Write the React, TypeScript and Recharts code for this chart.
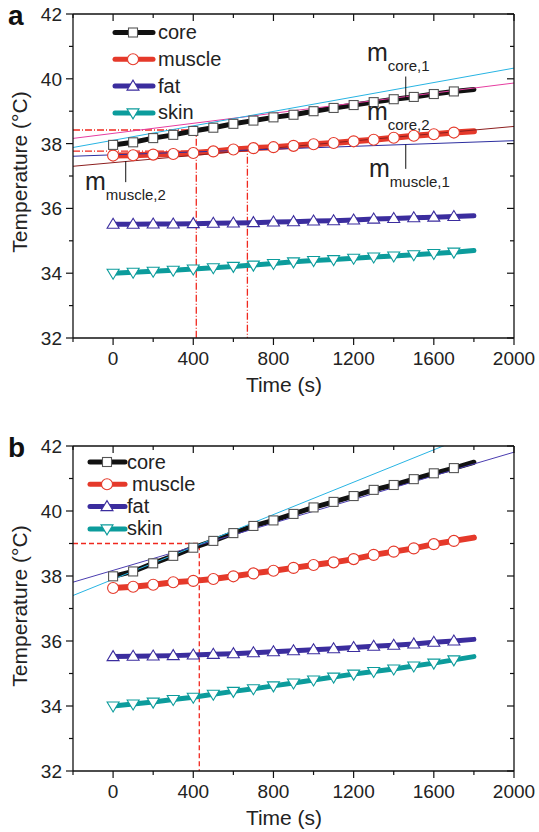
import React from "react";
import { LineChart, Line, XAxis, YAxis, ReferenceLine } from "recharts";

// time axis of the simulation (s); markers every 100 s up to 1700
const times = [0, 100, 200, 300, 400, 500, 600, 700, 800, 900, 1000, 1100, 1200, 1300, 1400, 1500, 1600, 1700, 1800];

// panel a
const coreA = [37.96, 38.04, 38.17, 38.27, 38.39, 38.49, 38.61, 38.71, 38.81, 38.89, 39.0, 39.1, 39.19, 39.28, 39.37, 39.44, 39.53, 39.61, 39.67];
const muscleA = [37.63, 37.64, 37.66, 37.68, 37.71, 37.76, 37.82, 37.86, 37.89, 37.93, 37.98, 38.02, 38.07, 38.12, 38.18, 38.24, 38.29, 38.34, 38.38];
const fatA = [35.51, 35.51, 35.52, 35.52, 35.53, 35.54, 35.55, 35.56, 35.58, 35.59, 35.61, 35.62, 35.64, 35.67, 35.69, 35.71, 35.73, 35.75, 35.77];
const skinA = [34.0, 34.03, 34.06, 34.09, 34.13, 34.17, 34.21, 34.25, 34.3, 34.35, 34.39, 34.42, 34.46, 34.5, 34.53, 34.57, 34.61, 34.65, 34.7];

// panel b
const coreB = [37.99, 38.14, 38.39, 38.62, 38.87, 39.08, 39.32, 39.54, 39.71, 39.91, 40.11, 40.28, 40.46, 40.65, 40.8, 40.98, 41.16, 41.32, 41.5];
const muscleB = [37.63, 37.67, 37.73, 37.81, 37.85, 37.91, 37.99, 38.08, 38.16, 38.25, 38.34, 38.42, 38.52, 38.65, 38.75, 38.85, 38.98, 39.08, 39.18];
const fatB = [35.52, 35.53, 35.54, 35.55, 35.57, 35.59, 35.61, 35.64, 35.67, 35.7, 35.73, 35.76, 35.8, 35.84, 35.87, 35.91, 35.96, 36.0, 36.05];
const skinB = [34.0, 34.06, 34.12, 34.2, 34.27, 34.36, 34.45, 34.53, 34.62, 34.71, 34.8, 34.89, 34.98, 35.06, 35.14, 35.23, 35.32, 35.42, 35.52];

// linear fits (end points)
const fitCore1A = [{ t: -200, v: 37.88 }, { t: 2000, v: 40.33 }];
const fitCore2A = [{ t: -200, v: 38.16 }, { t: 2000, v: 39.87 }];
const fitMuscle1A = [{ t: -200, v: 37.61 }, { t: 2000, v: 38.09 }];
const fitMuscle2A = [{ t: -200, v: 37.3 }, { t: 2000, v: 38.53 }];
const fitCore1B = [{ t: -200, v: 37.4 }, { t: 2000, v: 42.88 }];
const fitCore2B = [{ t: -200, v: 37.81 }, { t: 2000, v: 41.81 }];

// guide lines (horizontal to the time, then down to the axis)
const guide1A = [{ t: -200, v: 38.42 }, { t: 415, v: 38.42 }, { t: 415, v: 32 }];
const guide2A = [{ t: -200, v: 37.77 }, { t: 670, v: 37.77 }, { t: 670, v: 32 }];
const guideB = [{ t: -200, v: 39.0 }, { t: 430, v: 39.0 }, { t: 430, v: 32 }];

const xTicks = [-200, 0, 200, 400, 600, 800, 1000, 1200, 1400, 1600, 1800, 2000];
const yTicks = [32, 33, 34, 35, 36, 37, 38, 39, 40, 41, 42];

const FONT = '"Liberation Sans", Arial, sans-serif';
const C = {
  core: "#111111",
  muscle: "#e5392a",
  fat: "#3b2d9e",
  skin: "#0c9c9c",
  cyan: "#27b4e3",
  pink: "#e63da0",
  brown: "#8c1f1f",
  navy: "#2d2fa0",
  purple: "#4b3db0",
  ref: "#f0281e",
};

const rows = (core: number[], muscle: number[], fat: number[], skin: number[]) =>
  times.map((t, i) => ({ t, core: core[i], muscle: muscle[i], fat: fat[i], skin: skin[i] }));

// marker shapes
const Square = ({ x, y }: any) => (
  <rect x={x - 4.5} y={y - 4.5} width={9} height={9} fill="#fff" stroke="#555" strokeWidth={1.1} />
);
const Circ = ({ x, y }: any) => <circle cx={x} cy={y} r={5.5} fill="#fff" stroke={C.muscle} strokeWidth={1.1} />;
const TriUp = ({ x, y }: any) => (
  <polygon points={`${x},${y - 6} ${x - 6},${y + 4} ${x + 6},${y + 4}`} fill="#fff" stroke={C.fat} strokeWidth={1.1} />
);
const TriDown = ({ x, y }: any) => (
  <polygon points={`${x},${y + 6} ${x - 6},${y - 4} ${x + 6},${y - 4}`} fill="#fff" stroke={C.skin} strokeWidth={1.1} />
);

const markerDot = (Shape: any) => (props: any) => {
  const { cx, cy, payload, index } = props;
  if (payload.t > 1700) return <g key={`d-${index}`} />;
  return (
    <g key={`d-${index}`}>
      <Shape x={cx} y={cy} />
    </g>
  );
};

const isMajorX = (v: number) => v >= 0 && v % 400 === 0;
const isMajorY = (v: number) => v % 2 === 0;

const BottomTick = ({ x, y, payload }: any) => {
  const major = isMajorX(payload.value);
  return (
    <g>
      <line x1={x} x2={x} y1={y} y2={y + (major ? 7 : 4)} stroke="#111" strokeWidth={1.2} />
      {major && (
        <text x={x} y={y + 27} textAnchor="middle" fontSize={19} fontFamily={FONT} fill="#222">
          {payload.value}
        </text>
      )}
    </g>
  );
};
const TopTick = ({ x, y, payload }: any) => (
  <line x1={x} x2={x} y1={y} y2={y + (isMajorX(payload.value) ? 7 : 4)} stroke="#111" strokeWidth={1.2} />
);
const LeftTick = ({ x, y, payload }: any) => {
  const major = isMajorY(payload.value);
  return (
    <g>
      <line x1={x} x2={x - (major ? 7 : 4)} y1={y} y2={y} stroke="#111" strokeWidth={1.2} />
      {major && (
        <text x={x - 11} y={y + 7} textAnchor="end" fontSize={19} fontFamily={FONT} fill="#222">
          {payload.value}
        </text>
      )}
    </g>
  );
};
const RightTick = ({ x, y, payload }: any) => (
  <line x1={x} x2={x - (isMajorY(payload.value) ? 7 : 4)} y1={y} y2={y} stroke="#111" strokeWidth={1.2} />
);

const axisLine = { stroke: "#111", strokeWidth: 1.3 };

interface PanelProps {
  data: any[];
  height: number;
  topH: number;
  bottomH: number;
  fits: { data: any[]; color: string }[];
  guides: { data: any[]; dash: string }[];
  pointers: { t: number; y1: number; y2: number }[];
}

const Panel = ({ data, height, topH, bottomH, fits, guides, pointers }: PanelProps) => (
  <LineChart width={539} height={height} data={data} margin={{ top: 0, right: 0, bottom: 0, left: 0 }}>
    <XAxis dataKey="t" type="number" domain={[-200, 2000]} allowDataOverflow ticks={xTicks} interval={0}
      height={bottomH} tickSize={0} tickMargin={0} tickLine={false} axisLine={axisLine} tick={<BottomTick />} />
    <XAxis xAxisId="top" orientation="top" dataKey="t" type="number" domain={[-200, 2000]} allowDataOverflow
      ticks={xTicks} interval={0} height={topH} tickSize={0} tickMargin={0} tickLine={false} axisLine={axisLine} tick={<TopTick />} />
    <YAxis type="number" domain={[32, 42]} allowDataOverflow ticks={yTicks} interval={0} width={73}
      tickSize={0} tickMargin={0} tickLine={false} axisLine={axisLine} tick={<LeftTick />} />
    <YAxis yAxisId="right" orientation="right" type="number" domain={[32, 42]} allowDataOverflow ticks={yTicks}
      interval={0} width={25} tickSize={0} tickMargin={0} tickLine={false} axisLine={axisLine} tick={<RightTick />} />

    {guides.map((g, i) => (
      <Line key={`g${i}`} data={g.data} dataKey="v" stroke={C.ref} strokeWidth={1.3} strokeDasharray={g.dash}
        dot={false} activeDot={false} isAnimationActive={false} />
    ))}

    <Line dataKey="skin" stroke={C.skin} strokeWidth={5} strokeLinecap="round" dot={markerDot(TriDown)} activeDot={false} isAnimationActive={false} />
    <Line dataKey="fat" stroke={C.fat} strokeWidth={5} strokeLinecap="round" dot={markerDot(TriUp)} activeDot={false} isAnimationActive={false} />
    <Line dataKey="muscle" stroke={C.muscle} strokeWidth={6} strokeLinecap="round" dot={markerDot(Circ)} activeDot={false} isAnimationActive={false} />
    <Line dataKey="core" stroke={C.core} strokeWidth={5} strokeLinecap="round" dot={markerDot(Square)} activeDot={false} isAnimationActive={false} />

    {fits.map((f, i) => (
      <Line key={`f${i}`} data={f.data} dataKey="v" stroke={f.color} strokeWidth={1} dot={false}
        activeDot={false} isAnimationActive={false} />
    ))}

    {pointers.map((p, i) => (
      <ReferenceLine key={`p${i}`} segment={[{ x: p.t, y: p.y1 }, { x: p.t, y: p.y2 }]} stroke="#111" strokeWidth={1} />
    ))}
  </LineChart>
);

const legendItems = [
  { name: "core", color: C.core, Shape: Square },
  { name: "muscle", color: C.muscle, Shape: Circ },
  { name: "fat", color: C.fat, Shape: TriUp },
  { name: "skin", color: C.skin, Shape: TriDown },
];

const Legend = ({ x1, x2, mx, tx, y0, dy, muscleShift }: any) => (
  <g>
    {legendItems.map((it, i) => {
      const y = y0 + i * dy;
      const Shape = it.Shape;
      return (
        <g key={it.name}>
          <line x1={x1} x2={x2} y1={y} y2={y} stroke={it.color} strokeWidth={5} strokeLinecap="round" />
          <Shape x={mx} y={y} />
          <text x={tx + (it.name === "muscle" ? muscleShift : 0)} y={y + 6.5} fontSize={20} fontFamily={FONT} fill="#222">
            {it.name}
          </text>
        </g>
      );
    })}
  </g>
);

const MLabel = ({ x, y, sub }: any) => (
  <text x={x} y={y} fontSize={25} fontFamily={FONT} fill="#222">
    m
    <tspan fontSize={15} dy={10}>{sub}</tspan>
  </text>
);

export default function App() {
  const dataA = rows(coreA, muscleA, fatA, skinA);
  const dataB = rows(coreB, muscleB, fatB, skinB);
  return (
    <div style={{ position: "absolute", left: 0, top: 0, width: 539, height: 832, background: "#fff", fontFamily: FONT }}>
      <div style={{ position: "absolute", left: 0, top: 0 }}>
        <Panel
          data={dataA}
          height={410}
          topH={14}
          bottomH={72}
          fits={[
            { data: fitMuscle2A, color: C.brown },
            { data: fitMuscle1A, color: C.navy },
            { data: fitCore2A, color: C.pink },
            { data: fitCore1A, color: C.cyan },
          ]}
          guides={[
            { data: guide1A, dash: "7 2 1 2" },
            { data: guide2A, dash: "7 2 1 2" },
          ]}
          pointers={[
            { t: 1460, y1: 40.07, y2: 39.35 },
            { t: 1460, y1: 37.97, y2: 37.22 },
            { t: 63, y1: 37.46, y2: 36.81 },
          ]}
        />
      </div>
      <div style={{ position: "absolute", left: 0, top: 416 }}>
        <Panel
          data={dataB}
          height={416}
          topH={30}
          bottomH={61}
          fits={[
            { data: fitCore2B, color: C.purple },
            { data: fitCore1B, color: C.cyan },
          ]}
          guides={[{ data: guideB, dash: "5 3" }]}
          pointers={[]}
        />
      </div>
      <svg width={539} height={832} style={{ position: "absolute", left: 0, top: 0, pointerEvents: "none" }}>
        <text x={8} y={25} fontSize={28} fontWeight="bold" fontFamily={FONT} fill="#111">a</text>
        <text x={8} y={457} fontSize={28} fontWeight="bold" fontFamily={FONT} fill="#111">b</text>

        <text x={27} y={172} transform="rotate(-90, 27, 172)" textAnchor="middle" fontSize={21} fontFamily={FONT} fill="#222">
          Temperature (°C)
        </text>
        <text x={27} y={606} transform="rotate(-90, 27, 606)" textAnchor="middle" fontSize={21} fontFamily={FONT} fill="#222">
          Temperature (°C)
        </text>
        <text x={284} y={392} textAnchor="middle" fontSize={21} fontFamily={FONT} fill="#222">Time (s)</text>
        <text x={284} y={825} textAnchor="middle" fontSize={21} fontFamily={FONT} fill="#222">Time (s)</text>

        <Legend x1={115} x2={153} mx={133} tx={158} y0={32.5} dy={26.8} muscleShift={0} />
        <Legend x1={90} x2={125} mx={107} tx={127} y0={462} dy={22.3} muscleShift={5} />

        <MLabel x={367} y={61} sub="core,1" />
        <MLabel x={367} y={120} sub="core,2" />
        <MLabel x={369} y={177} sub="muscle,1" />
        <MLabel x={85} y={190} sub="muscle,2" />
      </svg>
    </div>
  );
}
